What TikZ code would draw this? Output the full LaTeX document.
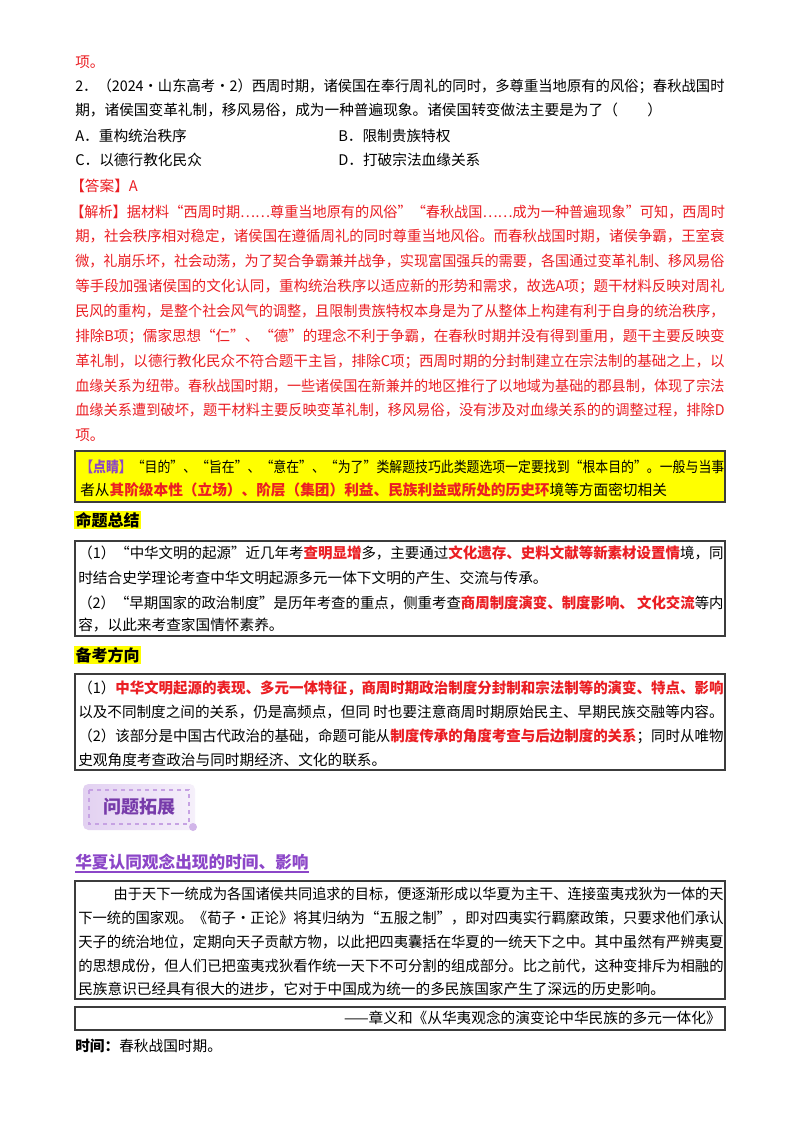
\documentclass[tikz,border=0pt]{standalone}
\usepackage{fontspec}
\usepackage{graphicx}
\setmainfont{Noto Sans CJK SC}
\XeTeXlinebreaklocale "zh"
\XeTeXlinebreakskip=0pt plus 2pt
\definecolor{rd}{RGB}{235,30,35}
\definecolor{ylw}{RGB}{255,255,0}
\definecolor{pur}{RGB}{140,70,200}
\definecolor{bx}{RGB}{60,60,60}
\newcommand{\R}[1]{\textcolor{rd}{\bfseries #1}}
\newsavebox{\fitbox}
\newcommand{\F}[2]{\sbox{\fitbox}{#2}\ifdim\wd\fitbox>#1\resizebox{#1}{\height}{#2}\else\makebox[#1][s]{#2}\fi}
\newcommand{\J}[1]{\F{487pt}{#1}}
\tikzset{ln/.style={anchor=west,inner sep=0pt,font=\fontsize{11pt}{13pt}\selectfont},
 frame/.style={draw=bx,line width=1pt}}
\begin{document}
\begin{tikzpicture}[x=0.75pt,y=-0.75pt]
\useasboundingbox (0,0) rectangle (800,1134);
\fill[white] (0,0) rectangle (800,1134);
% question
\node[ln,text=rd] (t0) at (75,62) {项。};
\node[ln] (t1) at (75,86) {\J{2．（2024·山东高考·2）西周时期，诸侯国在奉行周礼的同时，多尊重当地原有的风俗；春秋战国时}};
\node[ln] (t2) at (75,110) {期，诸侯国变革礼制，移风易俗，成为一种普遍现象。诸侯国转变做法主要是为了（\quad\quad）};
\node[ln] (oa) at (75,136) {A．重构统治秩序};
\node[ln] (ob) at (338,136) {B．限制贵族特权};
\node[ln] (oc) at (75,160) {C．以德行教化民众};
\node[ln] (od) at (338,160) {D．打破宗法血缘关系};
\begin{scope}[every node/.append style={text=rd}]
\node[ln] (a0) at (70,186) {【答案】A};
\node[ln] (a1) at (70,212) {\F{491pt}{【解析】据材料“西周时期……尊重当地原有的风俗”“春秋战国……成为一种普遍现象”可知，西周时}};
\node[ln] (a2) at (75,236) {\J{期，社会秩序相对稳定，诸侯国在遵循周礼的同时尊重当地风俗。而春秋战国时期，诸侯争霸，王室衰}};
\node[ln] (a3) at (75,261) {\J{微，礼崩乐坏，社会动荡，为了契合争霸兼并战争，实现富国强兵的需要，各国通过变革礼制、移风易俗}};
\node[ln] (a4) at (75,286) {\J{等手段加强诸侯国的文化认同，重构统治秩序以适应新的形势和需求，故选A项；题干材料反映对周礼}};
\node[ln] (a5) at (75,311) {\J{民风的重构，是整个社会风气的调整，且限制贵族特权本身是为了从整体上构建有利于自身的统治秩序，}};
\node[ln] (a6) at (75,336) {\J{排除B项；儒家思想“仁”、“德”的理念不利于争霸，在春秋时期并没有得到重用，题干主要反映变}};
\node[ln] (a7) at (75,361) {\J{革礼制，以德行教化民众不符合题干主旨，排除C项；西周时期的分封制建立在宗法制的基础之上，以}};
\node[ln] (a8) at (75,386) {\J{血缘关系为纽带。春秋战国时期，一些诸侯国在新兼并的地区推行了以地域为基础的郡县制，体现了宗法}};
\node[ln] (a9) at (75,410) {\J{血缘关系遭到破坏，题干材料主要反映变革礼制，移风易俗，没有涉及对血缘关系的的调整过程，排除D}};
\node[ln] (a10) at (75,435) {项。};
\end{scope}
% tip box
\draw[frame,fill=ylw] (75,451) rectangle (725,502);
\node[ln] (k1) at (80,467) {\F{483pt}{\textcolor{pur}{\bfseries【点睛】}“目的”、“旨在”、“意在”、“为了”类解题技巧此类题选项一定要找到“根本目的”。一般与当事}};
\node[ln] (k2) at (80,490) {者从\R{其阶级本性（立场）、阶层（集团）利益、民族利益或所处的历史环}境等方面密切相关};
% summary
\node[ln,fill=ylw,font=\fontsize{12pt}{14pt}\selectfont\bfseries,inner sep=1pt] (h1) at (74,520) {命题总结};
\draw[frame] (75,541) rectangle (725,636);
\node[ln] (s1) at (78,553) {\F{484pt}{（1）“中华文明的起源”近几年考\R{查明显增}多，主要通过\R{文化遗存、史料文献等新素材设置情}境，同}};
\node[ln] (s2) at (78,578) {时结合史学理论考查中华文明起源多元一体下文明的产生、交流与传承。};
\node[ln] (s3) at (78,603) {\F{484pt}{（2）“早期国家的政治制度”是历年考查的重点，侧重考查\R{商周制度演变、制度影响、\ 文化交流}等内}};
\node[ln] (s4) at (78,625) {容，以此来考查家国情怀素养。};
\node[ln,fill=ylw,font=\fontsize{12pt}{14pt}\selectfont\bfseries,inner sep=1pt] (h2) at (74,655) {备考方向};
\draw[frame] (75,674) rectangle (725,770);
\node[ln] (p1) at (78,688) {\F{484pt}{（1）\R{中华文明起源的表现、多元一体特征，商周时期政治制度分封制和宗法制等的演变、特点、影响}}};
\node[ln] (p2) at (78,712) {\F{484pt}{以及不同制度之间的关系，仍是高频点，但同\ 时也要注意商周时期原始民主、早期民族交融等内容。}};
\node[ln] (p3) at (78,736) {\F{484pt}{（2）该部分是中国古代政治的基础，命题可能从\R{制度传承的角度考查与后边制度的关系}；同时从唯物}};
\node[ln] (p4) at (78,760) {史观角度考查政治与同时期经济、文化的联系。};
% badge
\shade[left color=pur!25,right color=pur!8,rounded corners=4pt] (83,784) rectangle (195,830);
\draw[pur!50,dashed,line width=0.8pt] (89,790) rectangle (189,824);
\fill[pur!40] (193,827) circle (4);
\node[font=\fontsize{13.5pt}{15pt}\selectfont\bfseries,text=pur!85!black,inner sep=0pt] (bd) at (139,807) {问题拓展};
% heading
\node[ln,text=pur,font=\fontsize{12.5pt}{15pt}\selectfont\bfseries] (h3) at (75,862) {华夏认同观念出现的时间、影响};
\draw[pur,line width=1pt] (75,872) -- (h3.east |- 0,872);
\draw[frame] (75,881) rectangle (725,999);
\begin{scope}[every node/.append style={font=\fontsize{10.6pt}{13pt}\selectfont}]
\node[ln] (m1) at (78,894) {\F{484pt}{\hspace*{2.5em}由于天下一统成为各国诸侯共同追求的目标，便逐渐形成以华夏为主干、连接蛮夷戎狄为一体的天}};
\node[ln] (m2) at (78,918) {\F{484pt}{下一统的国家观。《荀子·正论》将其归纳为“五服之制”，即对四夷实行羁縻政策，只要求他们承认}};
\node[ln] (m3) at (78,942) {\F{484pt}{天子的统治地位，定期向天子贡献方物，以此把四夷囊括在华夏的一统天下之中。其中虽然有严辨夷夏}};
\node[ln] (m4) at (78,966) {\F{484pt}{的思想成份，但人们已把蛮夷戎狄看作统一天下不可分割的组成部分。比之前代，这种变排斥为相融的}};
\node[ln] (m5) at (78,989) {民族意识已经具有很大的进步，它对于中国成为统一的多民族国家产生了深远的历史影响。};
\end{scope}
\draw[frame] (75,1007) rectangle (725,1030);
\node[ln,anchor=east] (src) at (721,1018) {——章义和《从华夷观念的演变论中华民族的多元一体化》};
\node[ln] (tm) at (75,1046) {\textbf{时间：}春秋战国时期。};
\end{tikzpicture}
\end{document}
